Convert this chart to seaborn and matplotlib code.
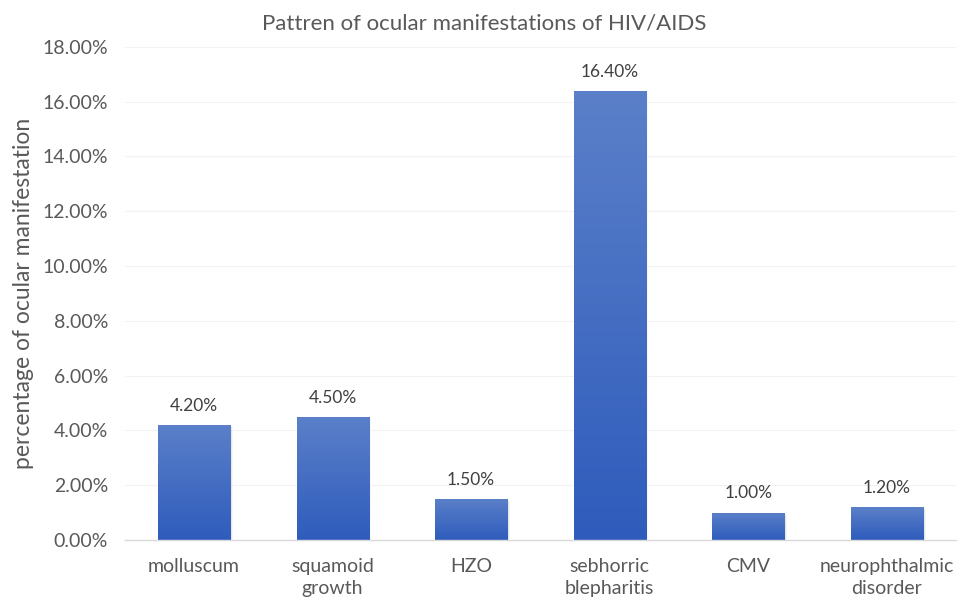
import numpy as np
import pandas as pd
import seaborn as sns
import matplotlib.pyplot as plt
from matplotlib.colors import LinearSegmentedColormap

# Data
categories = ['molluscum', 'squamoid\ngrowth', 'HZO', 'sebhorric\nblepharitis',
              'CMV', 'neurophthalmic\ndisorder']
values = [4.2, 4.5, 1.5, 16.4, 1.0, 1.2]
yticks = [0, 2, 4, 6, 8, 10, 12, 14, 16, 18]

df = pd.DataFrame({'category': categories, 'value': values})

sns.set_style('white')
plt.rcParams['font.family'] = ['Lato', 'DejaVu Sans']
text_color = '#595959'

fig = plt.figure(figsize=(9.59, 6.01), dpi=100)
ax = fig.add_axes([0.130, 0.1015, 0.867, 0.8205])

sns.barplot(data=df, x='category', y='value', color='#4472c4', width=0.52,
            ax=ax, zorder=3)

# Gradient fill on each bar (lighter at top, darker at bottom)
cmap = LinearSegmentedColormap.from_list('grad', ['#5b80c9', '#2f5cbc'])
grad = np.linspace(0, 1, 256).reshape(-1, 1)
for patch in ax.patches:
    x0, y0 = patch.get_x(), patch.get_y()
    w, h = patch.get_width(), patch.get_height()
    # subtle shadow
    ax.bar(x0 + w / 2 + 0.012, h, width=w, bottom=-0.05, color='#bfbfbf',
           alpha=0.5, zorder=2)
    im = ax.imshow(grad, cmap=cmap, aspect='auto', extent=[x0, x0 + w, y0, y0 + h],
                   zorder=4)
    im.set_clip_path(patch)
    ax.annotate(f'{h:.2f}%', (x0 + w / 2, h), xytext=(0, 8),
                textcoords='offset points', ha='center', va='bottom',
                fontsize=12.5, color='#404040', zorder=5)

ax.set_xlim(-0.5, len(categories) - 0.5)
ax.set_ylim(0, 18)
ax.set_yticks(yticks)
ax.set_yticklabels([f'{t:.2f}%' for t in yticks])
ax.yaxis.grid(True, color='#f2f2f2', linewidth=0.8, zorder=0)
ax.set_axisbelow(True)

for s in ['top', 'right', 'left']:
    ax.spines[s].set_visible(False)
ax.spines['bottom'].set_color('#d9d9d9')
ax.spines['bottom'].set_linewidth(1.0)
ax.spines['bottom'].set_zorder(6)

ax.tick_params(axis='both', length=0, labelsize=14, colors=text_color)
ax.tick_params(axis='x', pad=13)
ax.tick_params(axis='y', pad=12)
for lbl in ax.get_xticklabels():
    lbl.set_linespacing(1.35)
ax.set_xlabel('')
ax.set_ylabel('percentage of ocular manifestation', fontsize=16.5, color=text_color,
              labelpad=6)
fig.suptitle('Pattren of ocular manifestations of HIV/AIDS', fontsize=16,
             color=text_color, x=0.505, y=0.978)

fig.savefig('out.png', dpi=100)
